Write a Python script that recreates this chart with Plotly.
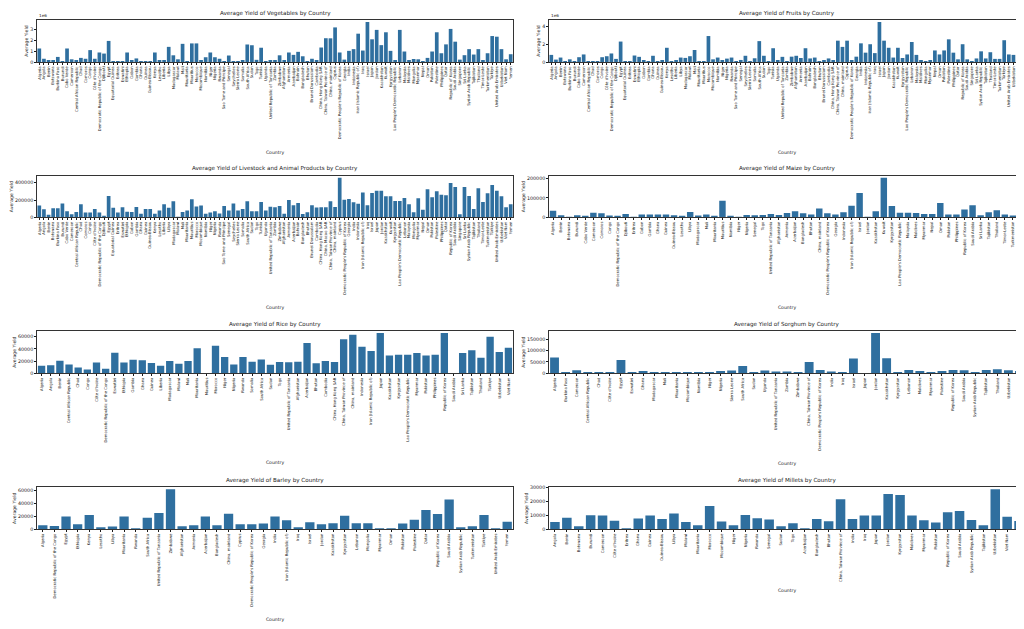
import plotly.graph_objects as go

# ---- data ----
africa_all = ["Algeria", "Angola", "Benin", "Botswana", "Burkina Faso", "Burundi", "Cabo Verde",
              "Cameroon", "Central African Republic", "Chad", "Comoros", "Congo", "Côte d'Ivoire",
              "Democratic Republic of the Congo", "Djibouti", "Egypt", "Equatorial Guinea", "Eritrea",
              "Eswatini", "Ethiopia", "Gabon", "Gambia", "Ghana", "Guinea", "Guinea-Bissau", "Kenya",
              "Lesotho", "Liberia", "Libya", "Madagascar", "Malawi", "Mali", "Mauritania", "Mauritius",
              "Morocco", "Mozambique", "Namibia", "Niger", "Nigeria", "Rwanda", "Sao Tome and Principe",
              "Senegal", "Seychelles", "Sierra Leone", "Somalia", "South Africa", "Sudan", "Togo",
              "Tunisia", "Uganda", "United Republic of Tanzania", "Zambia", "Zimbabwe"]

asia_veg = ["Afghanistan", "Armenia", "Azerbaijan", "Bahrain", "Bangladesh", "Bhutan", "Brunei Darussalam",
            "Cambodia", "China, Hong Kong SAR", "China, Taiwan Province of", "China, mainland", "Cyprus",
            "Democratic People's Republic of Korea", "Georgia", "India", "Indonesia",
            "Iran (Islamic Republic of)", "Iraq", "Israel", "Japan", "Jordan", "Kazakhstan", "Kuwait",
            "Kyrgyzstan", "Lao People's Democratic Republic", "Lebanon", "Malaysia", "Maldives", "Mongolia",
            "Myanmar", "Nepal", "Oman", "Pakistan", "Palestine", "Philippines", "Qatar", "Republic of Korea",
            "Saudi Arabia", "Singapore", "Sri Lanka", "Syrian Arab Republic", "Tajikistan", "Thailand",
            "Timor-Leste", "Turkmenistan", "Türkiye", "United Arab Emirates", "Uzbekistan", "Viet Nam", "Yemen"]

asia_livestock = ["Afghanistan", "Armenia", "Azerbaijan", "Bahrain", "Bangladesh", "Bhutan", "Brunei Darussalam",
                  "Cambodia", "China, Hong Kong SAR", "China, Macao SAR", "China, Taiwan Province of",
                  "China, mainland", "Cyprus", "Democratic People's Republic of Korea", "Georgia", "India",
                  "Indonesia", "Iran (Islamic Republic of)", "Iraq", "Israel", "Japan", "Jordan", "Kazakhstan",
                  "Kuwait", "Kyrgyzstan", "Lao People's Democratic Republic", "Lebanon", "Malaysia", "Mongolia",
                  "Myanmar", "Nepal", "Oman", "Pakistan", "Palestine", "Philippines", "Qatar", "Republic of Korea",
                  "Saudi Arabia", "Singapore", "Sri Lanka", "Syrian Arab Republic", "Tajikistan", "Thailand",
                  "Timor-Leste", "Turkmenistan", "Türkiye", "United Arab Emirates", "Uzbekistan", "Viet Nam", "Yemen"]

veg_countries = africa_all + asia_veg
veg_yield = [1250000, 300000, 150000, 100000, 470000, 30000, 1250000, 250000, 100000, 380000, 300000,
             1100000, 300000, 880000, 780000, 1950000, 10000, 30000, 30000, 880000, 150000, 330000, 60000,
             20000, 30000, 880000, 100000, 150000, 1400000, 620000, 250000, 1680000, 60000, 1720000, 1720000,
             120000, 440000, 880000, 440000, 300000, 60000, 600000, 60000, 80000, 120000, 1620000, 1550000,
             200000, 1320000, 80000, 150000, 180000, 620000,
             100000, 880000, 660000, 940000, 530000, 30000, 300000, 100000, 1340000, 2200000, 2190000,
             3200000, 880000, 220000, 1030000, 1190000, 2620000, 1060000, 3700000, 2100000, 2970000,
             1560000, 2750000, 1030000, 100000, 2970000, 970000, 160000, 280000, 250000, 60000, 380000,
             970000, 2750000, 810000, 1630000, 3060000, 1880000, 220000, 630000, 1190000, 690000, 1190000,
             100000, 810000, 2400000, 2340000, 1190000, 250000, 720000]

fruit_countries = africa_all + asia_veg
fruit_yield = [800000, 270000, 500000, 40000, 300000, 40000, 540000, 850000, 100000, 40000, 80000, 540000,
               650000, 960000, 350000, 2300000, 40000, 100000, 730000, 580000, 200000, 100000, 700000, 40000,
               200000, 1600000, 40000, 200000, 500000, 460000, 650000, 1350000, 40000, 40000, 2920000,
               300000, 500000, 150000, 380000, 500000, 40000, 230000, 700000, 100000, 420000, 2350000,
               700000, 100000, 1550000, 150000, 580000, 60000, 600000,
               700000, 450000, 1550000, 400000, 500000, 100000, 200000, 400000, 150000, 2400000, 1700000,
               2400000, 200000, 600000, 2100000, 1050000, 2000000, 1000000, 4500000, 2400000, 1600000,
               500000, 1600000, 450000, 850000, 2250000, 800000, 150000, 50000, 150000, 1300000, 850000,
               1300000, 2550000, 1050000, 300000, 2000000, 300000, 30000, 400000, 1200000, 400000, 1100000,
               350000, 350000, 2450000, 850000, 800000, 600000, 1050000]

livestock_countries = africa_all + asia_livestock
livestock_yield = [135000, 92000, 30000, 105000, 105000, 160000, 70000, 35000, 60000, 150000, 55000, 55000,
                   95000, 55000, 10000, 245000, 110000, 55000, 115000, 65000, 60000, 120000, 40000, 95000,
                   95000, 40000, 80000, 150000, 110000, 185000, 5000, 60000, 80000, 210000, 125000, 135000,
                   40000, 55000, 70000, 45000, 130000, 80000, 160000, 80000, 95000, 185000, 70000, 70000,
                   177000, 78000, 123000, 115000, 131000,
                   42000, 200000, 138000, 165000, 38000, 58000, 138000, 112000, 115000, 115000, 185000,
                   119000, 458000, 204000, 211000, 173000, 158000, 288000, 138000, 281000, 308000, 308000,
                   242000, 242000, 188000, 188000, 223000, 150000, 58000, 219000, 88000, 323000, 231000,
                   300000, 262000, 254000, 396000, 350000, 35000, 350000, 246000, 96000, 335000, 177000,
                   277000, 373000, 308000, 242000, 115000, 150000]

maize_countries = ["Algeria", "Benin", "Botswana", "Burundi", "Cabo Verde", "Cameroon", "Comoros", "Congo",
                   "Democratic Republic of the Congo", "Djibouti", "Eritrea", "Gabon", "Gambia", "Ghana",
                   "Guinea", "Guinea-Bissau", "Lesotho", "Libya", "Madagascar", "Mali", "Mauritania",
                   "Mauritius", "Namibia", "Niger", "Nigeria", "Senegal", "Togo", "United Republic of Tanzania",
                   "Afghanistan", "Armenia", "Azerbaijan", "Bangladesh", "Bhutan", "China, mainland",
                   "Democratic People's Republic of Korea", "Georgia", "Indonesia", "Iran (Islamic Republic of)",
                   "Israel", "Jordan", "Kazakhstan", "Kuwait", "Kyrgyzstan", "Lao People's Democratic Republic",
                   "Malaysia", "Maldives", "Myanmar", "Nepal", "Oman", "Pakistan", "Philippines",
                   "Republic of Korea", "Saudi Arabia", "Sri Lanka", "Tajikistan", "Thailand", "Timor-Leste",
                   "Turkmenistan", "Türkiye"]
maize_yield = [34000, 10000, 2000, 10000, 5000, 24000, 21000, 9000, 7000, 17000, 2000, 15000, 15000, 14000,
               14000, 10000, 7000, 28000, 9000, 14000, 7000, 86000, 7000, 3000, 12000, 10000, 12000, 17000,
               12000, 22000, 31000, 21000, 14000, 45000, 21000, 14000, 26000, 60000, 126000, 500, 31000,
               205000, 59000, 24000, 24000, 22000, 17000, 17000, 74000, 15000, 15000, 40000, 62000, 10000,
               26000, 36000, 15000, 9000, 41000]

rice_countries = ["Algeria", "Angola", "Benin", "Central African Republic", "Chad", "Congo", "Côte d'Ivoire",
                  "Democratic Republic of the Congo", "Eswatini", "Ethiopia", "Gambia", "Ghana", "Guinea",
                  "Liberia", "Madagascar", "Malawi", "Mali", "Mauritania", "Mauritius", "Morocco", "Niger",
                  "Nigeria", "Rwanda", "Somalia", "South Africa", "Sudan", "Togo", "United Republic of Tanzania",
                  "Afghanistan", "Azerbaijan", "Bhutan", "Cambodia", "China, Hong Kong SAR",
                  "China, Taiwan Province of", "China, mainland", "Indonesia", "Iran (Islamic Republic of)",
                  "Japan", "Kazakhstan", "Kyrgyzstan", "Lao People's Democratic Republic", "Myanmar", "Pakistan",
                  "Philippines", "Republic of Korea", "Saudi Arabia", "Sri Lanka", "Tajikistan", "Thailand",
                  "Türkiye", "Uzbekistan", "Viet Nam"]
rice_yield = [12400, 13000, 20500, 14600, 9600, 6200, 17500, 7300, 33800, 17500, 22000, 21400, 16900, 12400,
              20300, 15800, 20300, 41000, 200, 45000, 26500, 14600, 26500, 19000, 22500, 14000, 18600, 18000,
              19000, 49500, 16300, 20300, 18600, 55700, 63000, 43300, 36600, 66000, 29300, 30400, 30400,
              33200, 29300, 30400, 66000, 300, 33200, 37700, 25300, 59700, 34900, 41700]

sorghum_countries = ["Algeria", "Burkina Faso", "Cameroon", "Central African Republic", "Chad", "Côte d'Ivoire",
                     "Egypt", "Eswatini", "Ghana", "Madagascar", "Mali", "Mauritania", "Mozambique", "Namibia",
                     "Niger", "Nigeria", "Sierra Leone", "South Africa", "Sudan", "Uganda",
                     "United Republic of Tanzania", "Zambia", "Zimbabwe", "China, Taiwan Province of",
                     "Democratic People's Republic of Korea", "India", "Iraq", "Israel", "Japan", "Jordan",
                     "Kazakhstan", "Kyrgyzstan", "Lebanon", "Maldives", "Myanmar", "Palestine",
                     "Republic of Korea", "Saudi Arabia", "Syrian Arab Republic", "Tajikistan", "Thailand",
                     "Uzbekistan", "Yemen"]
sorghum_yield = [69000, 6000, 13500, 6000, 6000, 6000, 58500, 6000, 10500, 4500, 6000, 4500, 4500, 3000, 1500,
                 10500, 12000, 32000, 6000, 12000, 7500, 7500, 3000, 49500, 15000, 7500, 3000, 64500, 300,
                 177000, 66000, 3000, 15000, 10500, 6000, 10500, 15000, 13500, 6000, 15000, 18000, 13500, 10500]

barley_countries = ["Algeria", "Democratic Republic of the Congo", "Egypt", "Ethiopia", "Kenya", "Lesotho",
                    "Libya", "Mauritania", "Rwanda", "South Africa", "United Republic of Tanzania", "Zimbabwe",
                    "Afghanistan", "Armenia", "Azerbaijan", "Bangladesh", "China, mainland", "Cyprus",
                    "Democratic People's Republic of Korea", "Georgia", "India", "Iran (Islamic Republic of)",
                    "Iraq", "Israel", "Jordan", "Kazakhstan", "Kyrgyzstan", "Lebanon", "Mongolia", "Myanmar",
                    "Oman", "Pakistan", "Palestine", "Qatar", "Republic of Korea", "Saudi Arabia",
                    "Syrian Arab Republic", "Turkmenistan", "Türkiye", "United Arab Emirates", "Yemen"]
barley_yield = [6300, 5300, 20000, 7900, 22000, 2600, 4200, 20000, 100, 17900, 25200, 62000, 4700, 6300, 20000,
                6300, 24200, 7900, 7900, 8900, 20000, 14200, 3200, 11000, 7900, 9500, 21000, 9500, 9500, 50, 50,
                8900, 14700, 30000, 23700, 46300, 1600, 4700, 22000, 100, 11600]

millet_countries = ["Angola", "Benin", "Botswana", "Burundi", "Cameroon", "Côte d'Ivoire", "Eritrea", "Ghana",
                    "Guinea", "Guinea-Bissau", "Libya", "Malawi", "Mauritania", "Morocco", "Mozambique", "Niger",
                    "Nigeria", "Rwanda", "Senegal", "Sudan", "Togo", "Azerbaijan", "Bangladesh", "Bhutan",
                    "China, Taiwan Province of", "India", "Iraq", "Japan", "Jordan", "Kyrgyzstan", "Maldives",
                    "Myanmar", "Pakistan", "Republic of Korea", "Saudi Arabia", "Syrian Arab Republic",
                    "Tajikistan", "Uzbekistan", "Viet Nam", "Yemen"]
millet_yield = [5300, 8200, 2200, 10100, 9800, 6200, 700, 7700, 9800, 7400, 11300, 5300, 2900, 16600, 5500,
                2900, 10300, 7900, 7000, 2200, 4300, 300, 7400, 5800, 21400, 7400, 9800, 9800, 25200, 24500,
                9800, 6500, 4800, 12200, 13000, 6700, 2900, 28600, 8900, 6000]

# y tick labels per panel
veg_ticks = [0, 1000000, 2000000, 3000000]
veg_ticktext = ["0", "1", "2", "3"]
fruit_ticks = [0, 2000000, 4000000]
fruit_ticktext = ["0", "2", "4"]
livestock_ticks = [0, 200000, 400000]
maize_ticks = [0, 100000, 200000]
rice_ticks = [0, 20000, 40000, 60000]
sorghum_ticks = [0, 50000, 100000, 150000]
barley_ticks = [0, 20000, 40000, 60000]
millet_ticks = [0, 10000, 20000, 30000]

W, H = 1024, 629
BAR_COLOR = "#2f6f9f"
TEXT = "#1a1a1a"
FONT = "DejaVu Sans"

col_x = [(29 / W, 505 / W), (541 / W, 1017 / W)]
row_y = [(12, 54), (167.7, 209.3), (323, 365.3), (479.3, 521.3)]

# (title, countries, values, yticks, yticktext, offset text, row, col, x-title standoff)
panels = [
    ("Average Yield of Vegetables by Country", veg_countries, veg_yield, veg_ticks, veg_ticktext, "1e6", 0, 0, 12),
    ("Average Yield of Fruits by Country", fruit_countries, fruit_yield, fruit_ticks, fruit_ticktext, "1e6", 0, 1, 12),
    ("Average Yield of Livestock and Animal Products by Country", livestock_countries, livestock_yield,
     livestock_ticks, None, None, 1, 0, 12),
    ("Average Yield of Maize by Country", maize_countries, maize_yield, maize_ticks, None, None, 1, 1, 12),
    ("Average Yield of Rice by Country", rice_countries, rice_yield, rice_ticks, None, None, 2, 0, 19),
    ("Average Yield of Sorghum by Country", sorghum_countries, sorghum_yield, sorghum_ticks, None, None, 2, 1, 12),
    ("Average Yield of Barley by Country", barley_countries, barley_yield, barley_ticks, None, None, 3, 0, 12),
    ("Average Yield of Millets by Country", millet_countries, millet_yield, millet_ticks, None, None, 3, 1, 7),
]

fig = go.Figure()
annotations = []
layout_axes = {}

for i, (title, countries, values, ticks, ticktext, offset, row, col, xstand) in enumerate(panels):
    n = i + 1
    xname = "x" if n == 1 else "x%d" % n
    yname = "y" if n == 1 else "y%d" % n
    xkey = "xaxis" if n == 1 else "xaxis%d" % n
    ykey = "yaxis" if n == 1 else "yaxis%d" % n

    fig.add_trace(
        go.Bar(
            x=countries,
            y=values,
            xaxis=xname,
            yaxis=yname,
            marker=dict(color=BAR_COLOR, line=dict(width=0)),
            showlegend=False,
        )
    )

    top_px, bot_px = row_y[row]
    ydom = [1 - bot_px / H, 1 - top_px / H]

    layout_axes[xkey] = dict(
        domain=list(col_x[col]),
        anchor=yname,
        type="category",
        range=[-0.5, len(countries) - 0.5],
        tickmode="array",
        tickvals=countries,
        ticktext=countries,
        tickangle=-90,
        tickfont=dict(size=3.8, color=TEXT, family=FONT),
        ticks="outside",
        ticklen=2,
        tickwidth=0.5,
        tickcolor=TEXT,
        showline=True,
        mirror=True,
        linecolor="#333333",
        linewidth=0.6,
        showgrid=False,
        automargin=False,
        title=dict(text="Country", font=dict(size=4.6, color=TEXT, family=FONT), standoff=xstand),
    )
    layout_axes[ykey] = dict(
        domain=ydom,
        anchor=xname,
        range=[0, max(values) * 1.05],
        tickmode="array",
        tickvals=ticks,
        ticktext=ticktext if ticktext is not None else [str(t) for t in ticks],
        tickfont=dict(size=4.8, color=TEXT, family=FONT),
        ticks="outside",
        ticklen=2,
        tickwidth=0.5,
        tickcolor=TEXT,
        showline=True,
        mirror=True,
        linecolor="#333333",
        linewidth=0.6,
        showgrid=False,
        zeroline=False,
        automargin=False,
        title=dict(text="Average Yield", font=dict(size=4.6, color=TEXT, family=FONT), standoff=1),
    )

    annotations.append(
        dict(
            text=title,
            x=(col_x[col][0] + col_x[col][1]) / 2,
            y=ydom[1],
            xref="paper",
            yref="paper",
            xanchor="center",
            yanchor="bottom",
            yshift=1.5,
            showarrow=False,
            font=dict(size=5.6, color=TEXT, family=FONT),
        )
    )
    if offset:
        annotations.append(
            dict(
                text=offset,
                x=col_x[col][0],
                y=ydom[1],
                xref="paper",
                yref="paper",
                xanchor="left",
                yanchor="bottom",
                showarrow=False,
                font=dict(size=4.2, color=TEXT, family=FONT),
            )
        )

fig.update_layout(
    width=W,
    height=H,
    margin=dict(l=0, r=0, t=0, b=0),
    paper_bgcolor="white",
    plot_bgcolor="white",
    bargap=0.2,
    font=dict(family=FONT, color=TEXT),
    annotations=annotations,
    **layout_axes
)

fig.write_html("out.html")
